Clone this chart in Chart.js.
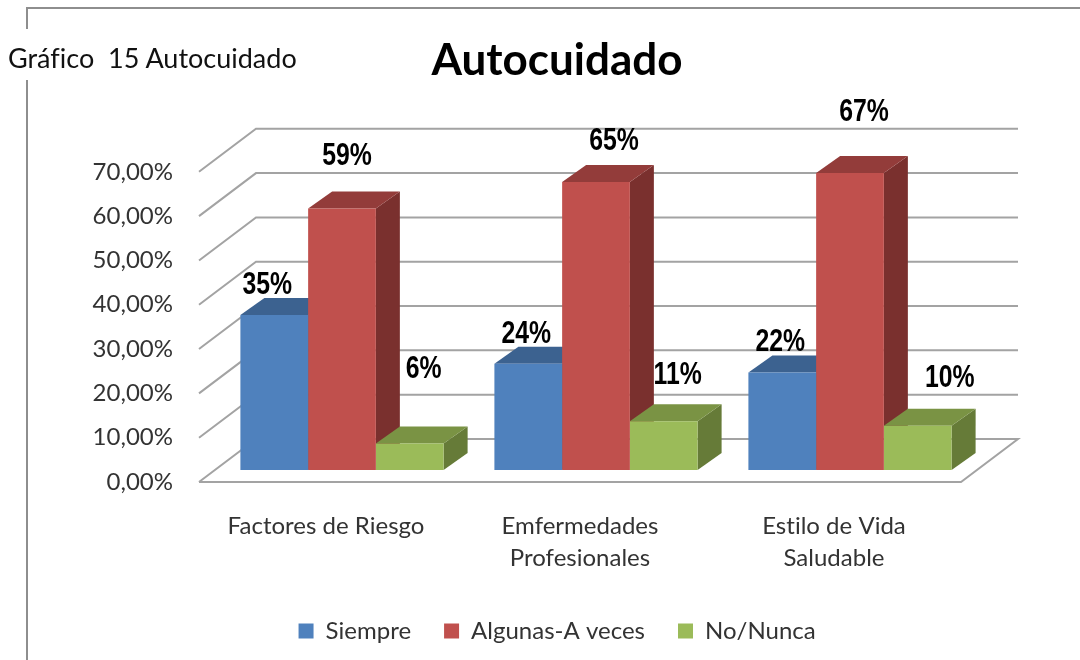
<!DOCTYPE html>
<html>
<head>
<meta charset="utf-8">
<title>Autocuidado</title>
<script src="https://cdn.jsdelivr.net/npm/chart.js@4/dist/chart.umd.min.js"></script>
<style>
    body { margin: 0; background: #fff; }
    #wrap { position: relative; width: 1080px; height: 660px; overflow: hidden; }
    #frameTop { position: absolute; left: 26px; top: 7px; width: 1054px; height: 2px; background: #8e8e8e; }
    #frameLeftA { position: absolute; left: 26px; top: 7px; width: 2px; height: 22px; background: #8e8e8e; }
    #frameLeftB { position: absolute; left: 26px; top: 80px; width: 2px; height: 580px; background: #8e8e8e; }
    #caption { position: absolute; left: 8px; top: 41px; font: 27px Lato, sans-serif; font-variant-ligatures: none; color: #111; white-space: pre; }
    canvas { position: absolute; left: 0; top: 0; }
</style>
</head>
<body>
<div id="wrap">
    <div id="frameTop"></div>
    <div id="frameLeftA"></div>
    <div id="frameLeftB"></div>
    <canvas id="chart" width="1080" height="660"></canvas>
    <div id="caption">Gráfico  15 Autocuidado</div>
</div>
<script>
const categories = ['Factores de Riesgo', ['Emfermedades', 'Profesionales'], ['Estilo de Vida', 'Saludable']];
const siempre = [35, 24, 22];
const algunas = [59, 65, 67];
const noNunca = [6, 11, 10];
const seriesNames = ['Siempre', 'Algunas-A veces', 'No/Nunca'];

const frontColors = ['#4f81bd', '#c0504d', '#9bbb59'];
const topColors = ['#3c6290', '#933c3a', '#7a9344'];
const sideColors = ['#2f4d72', '#7a302e', '#667b38'];

// 3D look: how far the wall and the bars are pushed back
const wallBack = { x: 41, y: -31 };
const wallFront = { x: -16, y: 12 };
const barDepth = { x: 24, y: -17 };
const gridColor = '#a3a3a3';

// label offset from the top centre of each bar
const labelNudges = [
    [[-7, -29], [-2, -29], [-2, -30]],
    [[5, -52], [18, -41], [14, -61]],
    [[14, -74], [14, -46], [32, -47]]
];

function poly(ctx, pts, color) {
    ctx.fillStyle = color;
    ctx.beginPath();
    pts.forEach((p, i) => i ? ctx.lineTo(p[0], p[1]) : ctx.moveTo(p[0], p[1]));
    ctx.closePath();
    ctx.fill();
}

const fake3d = {
    id: 'fake3d',
    beforeDraw(chart) {
        // a tiny spacing switches off the fi / ti ligatures of Lato
        chart.ctx.letterSpacing = '0.01px';
    },
    beforeDatasetsDraw(chart) {
        const { ctx, chartArea, scales } = chart;
        const y = scales.y;
        ctx.save();
        ctx.strokeStyle = gridColor;
        ctx.lineWidth = 2;
        y.ticks.forEach(t => {
            const py = y.getPixelForValue(t.value);
            ctx.beginPath();
            ctx.moveTo(chartArea.left + wallFront.x, py + wallFront.y);
            ctx.lineTo(chartArea.left + wallBack.x, py + wallBack.y);
            ctx.lineTo(chartArea.right + wallBack.x, py + wallBack.y);
            if (t.value === 0) {
                ctx.lineTo(chartArea.right + wallFront.x, py + wallFront.y);
                ctx.lineTo(chartArea.left + wallFront.x, py + wallFront.y);
            }
            ctx.stroke();
        });
        // top and side of every bar, left to right; the fronts come after from the library
        const dx = barDepth.x, dy = barDepth.y;
        chart.data.datasets.forEach((ds, i) => {
            chart.getDatasetMeta(i).data.forEach(bar => {
                const l = bar.x - bar.width / 2, r = bar.x + bar.width / 2;
                poly(ctx, [[r, bar.y], [r + dx, bar.y + dy], [r + dx, bar.base + dy], [r, bar.base]], sideColors[i]);
                poly(ctx, [[l, bar.y], [r, bar.y], [r + dx, bar.y + dy], [l + dx, bar.y + dy]], topColors[i]);
            });
        });
        ctx.restore();
    },
    afterDatasetsDraw(chart) {
        const ctx = chart.ctx;
        chart.data.datasets.forEach((ds, i) => {
            chart.getDatasetMeta(i).data.forEach((bar, j) => {
                const n = labelNudges[i][j];
                ctx.save();
                ctx.font = 'bold 31px "Liberation Sans", sans-serif';
                ctx.fillStyle = '#000';
                ctx.textAlign = 'center';
                ctx.textBaseline = 'middle';
                ctx.translate(bar.x + n[0], bar.y + n[1]);
                ctx.scale(0.8, 1);
                ctx.fillText(ds.data[j] + '%', 0, 0);
                ctx.restore();
            });
        });
    }
};

new Chart(document.getElementById('chart').getContext('2d'), {
    type: 'bar',
    data: {
        labels: categories,
        datasets: [
            { label: seriesNames[0], data: siempre, backgroundColor: frontColors[0] },
            { label: seriesNames[1], data: algunas, backgroundColor: frontColors[1] },
            { label: seriesNames[2], data: noNunca, backgroundColor: frontColors[2] }
        ]
    },
    plugins: [fake3d],
    options: {
        responsive: false,
        animation: false,
        layout: { padding: { left: 34, right: 0, top: 0, bottom: 7 } },
        categoryPercentage: 0.8,
        barPercentage: 1,
        scales: {
            x: {
                grid: { display: false, drawTicks: false },
                border: { display: false },
                afterFit(scale) { scale.height = 116; },
                ticks: {
                    color: '#333',
                    font: { family: 'Lato', size: 24, lineHeight: 1.3 },
                    padding: 41,
                    labelOffset: -16,
                    maxRotation: 0,
                    autoSkip: false
                }
            },
            y: {
                min: 0,
                max: 70,
                grid: { display: false, drawTicks: false },
                border: { display: false },
                afterFit(scale) { scale.width = 181; },
                ticks: {
                    stepSize: 10,
                    color: '#333',
                    font: { family: 'Lato', size: 24 },
                    padding: 42,
                    labelOffset: 12,
                    callback: v => v.toFixed(2).replace('.', ',') + '%'
                }
            },
            // empty axis, only keeps the room right of the plot so title and legend stay centred
            yRight: {
                position: 'right',
                grid: { display: false },
                border: { display: false },
                ticks: { display: false },
                afterFit(scale) { scale.width = 103; }
            }
        },
        plugins: {
            title: {
                display: true,
                text: 'Autocuidado',
                color: '#000',
                font: { family: 'Lato', size: 44, weight: 'bold' },
                padding: { top: 34, bottom: 73 }
            },
            legend: {
                position: 'bottom',
                labels: {
                    color: '#333',
                    font: { family: 'Lato', size: 24 },
                    boxWidth: 15,
                    boxHeight: 15,
                    padding: 33
                }
            },
            tooltip: { enabled: false }
        }
    }
});
</script>
</body>
</html>
